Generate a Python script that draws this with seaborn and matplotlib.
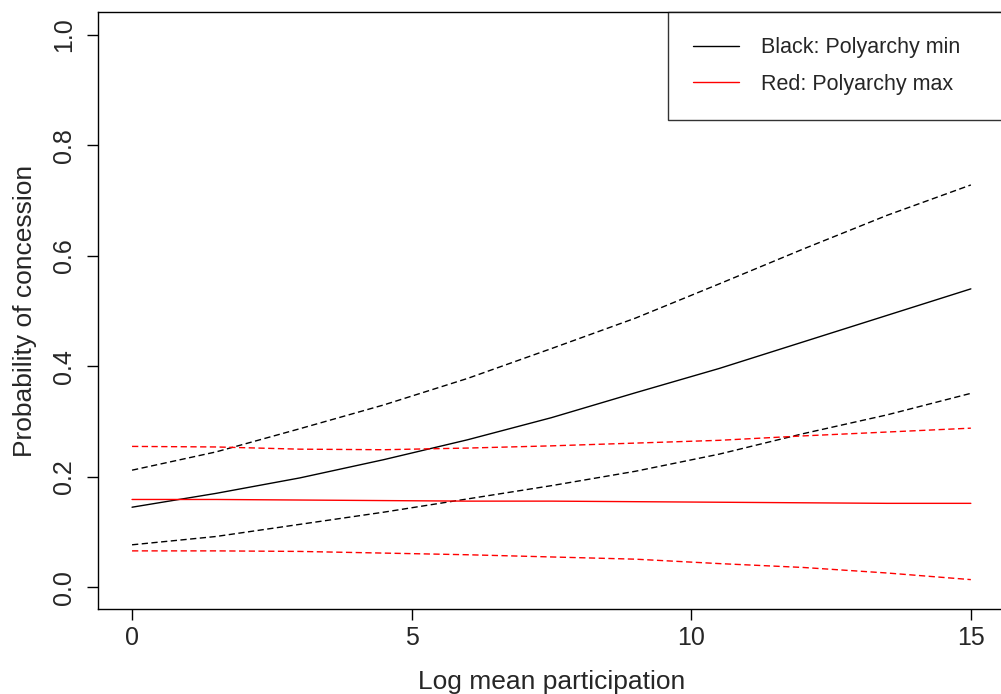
import numpy as np
import pandas as pd
import matplotlib
matplotlib.use("Agg")
import matplotlib.pyplot as plt
import seaborn as sns

# Valores (x = log participacion media)
x_vals = [0, 1.5, 3, 4.5, 6, 7.5, 9, 10.5, 12, 13.5, 15]

# Polyarchy min (negro): prediccion e intervalo
negro_media = [0.145, 0.170, 0.198, 0.231, 0.267, 0.307, 0.352, 0.396, 0.444, 0.492, 0.540]
negro_sup = [0.212, 0.245, 0.287, 0.330, 0.378, 0.432, 0.487, 0.549, 0.612, 0.673, 0.728]
negro_inf = [0.077, 0.092, 0.114, 0.136, 0.160, 0.184, 0.210, 0.241, 0.278, 0.312, 0.351]

# Polyarchy max (rojo): prediccion e intervalo
rojo_media = [0.159, 0.159, 0.158, 0.157, 0.156, 0.156, 0.155, 0.154, 0.153, 0.152, 0.152]
rojo_sup = [0.255, 0.254, 0.250, 0.249, 0.252, 0.256, 0.261, 0.266, 0.274, 0.281, 0.288]
rojo_inf = [0.066, 0.066, 0.065, 0.062, 0.059, 0.055, 0.051, 0.043, 0.036, 0.026, 0.014]

y_ticks = [0.0, 0.2, 0.4, 0.6, 0.8, 1.0]
x_ticks = [0, 5, 10, 15]
leyenda = ["Black: Polyarchy min", "Red: Polyarchy max"]

sns.set_style("ticks")
plt.rcParams["font.family"] = ["Liberation Sans", "DejaVu Sans"]

fig = plt.figure(figsize=(10.01, 6.94), dpi=100)
ax = fig.add_axes([0.0984, 0.1218, 0.905, 0.8602])

series = [
    (negro_media, "black", "-"),
    (negro_sup, "black", "--"),
    (negro_inf, "black", "--"),
    (rojo_media, "red", "-"),
    (rojo_sup, "red", "--"),
    (rojo_inf, "red", "--"),
]
for valores, color, estilo in series:
    df = pd.DataFrame({"x": x_vals, "y": valores})
    l = sns.lineplot(data=df, x="x", y="y", ax=ax, color=color, linewidth=1.0)
    if estilo == "--":
        l.lines[-1].set_dashes((4.5, 2.5))

ax.set_xlim(-0.6, 15.6)
ax.set_ylim(-0.04, 1.04)
ax.set_xticks(x_ticks)
ax.set_yticks(y_ticks)
ax.set_yticklabels([f"{v:.1f}" for v in y_ticks], rotation=90, va="center")
ax.tick_params(axis="both", labelsize=18, length=8, width=1, color="black")
ax.tick_params(axis="x", pad=4)
ax.tick_params(axis="y", pad=8)
for s in ax.spines.values():
    s.set_linewidth(1.0)
    s.set_color("black")

ax.set_xlabel("Log mean participation", fontsize=19, labelpad=14)
ax.set_ylabel("Probability of concession", fontsize=19, labelpad=11)

handles = [
    plt.Line2D([], [], color="black", linewidth=1.0),
    plt.Line2D([], [], color="red", linewidth=1.0),
]
leg = ax.legend(handles, leyenda, loc="upper left",
                bbox_to_anchor=(0.6286, 0.0, 0.3714, 1.0),
                frameon=True, fancybox=False, fontsize=15.5,
                handlelength=2.15, handletextpad=1.0, borderpad=1.15,
                labelspacing=0.73, borderaxespad=0.0, mode="expand")
leg.get_frame().set_edgecolor("black")
leg.get_frame().set_linewidth(1.0)

fig.savefig("out.png", dpi=100)
